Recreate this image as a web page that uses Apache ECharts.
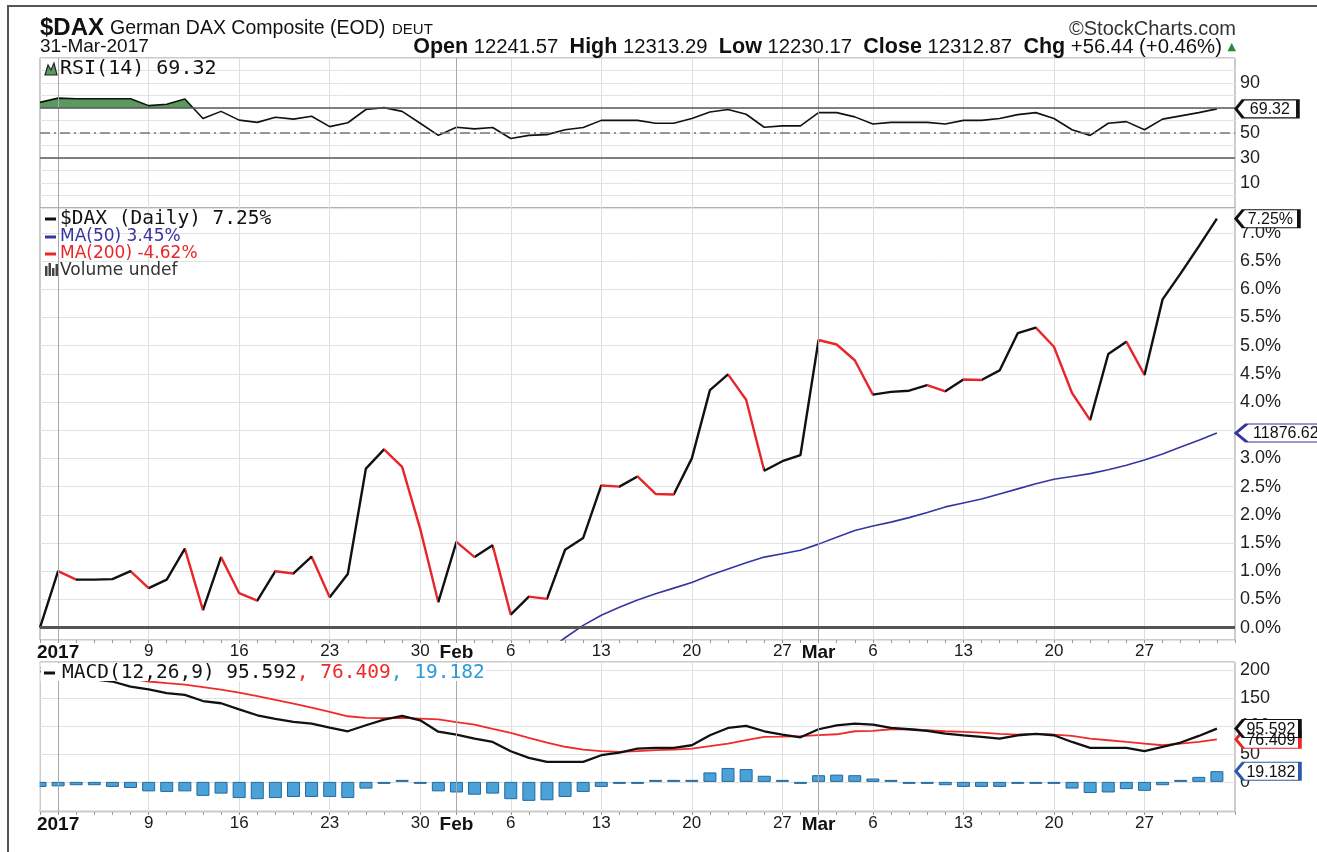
<!DOCTYPE html>
<html>
<head>
<meta charset="utf-8">
<script src="https://cdn.jsdelivr.net/npm/echarts@6.0.0/dist/echarts.min.js"></script>
<style>
    html, body { margin: 0; padding: 0; background: #fff; }
    #chart { width: 1317px; height: 852px; }
</style>
</head>
<body>
<div id="chart"></div>
<script>
// ---- data -------------------------------------------------------------------

// % change of $DAX vs. the 30-Dec-2016 close, one value per trading day
let dax = [0.00, 1.00, 0.85, 0.85, 0.86, 1.00, 0.70, 0.85, 1.40, 0.31,
    1.25, 0.61, 0.48, 1.00, 0.96, 1.26, 0.54, 0.95, 2.82, 3.16,
    2.85, 1.75, 0.45, 1.52, 1.25, 1.46, 0.23, 0.55, 0.51, 1.38,
    1.59, 2.52, 2.50, 2.68, 2.37, 2.36, 3.00, 4.21, 4.49, 4.04,
    2.78, 2.95, 3.06, 5.10, 5.02, 4.74, 4.13, 4.18, 4.20, 4.30,
    4.19, 4.40, 4.39, 4.56, 5.22, 5.32, 4.98, 4.16, 3.68, 4.85,
    5.07, 4.48, 5.82, 6.28, 6.76, 7.25];

// MA(50) in %, only the part that shows in the panel (from day index 28)
let ma50Start = 28;
let ma50 = [-0.42, -0.18, 0.04, 0.22, 0.36, 0.49, 0.60, 0.70, 0.80, 0.93,
    1.04, 1.15, 1.25, 1.31, 1.37, 1.48, 1.60, 1.72, 1.80, 1.87,
    1.95, 2.04, 2.14, 2.21, 2.28, 2.37, 2.46, 2.55, 2.63, 2.68,
    2.73, 2.80, 2.88, 2.97, 3.08, 3.20, 3.32, 3.45];

let rsi = [74.5, 77.9, 77.4, 77.4, 77.4, 77.4, 71.9, 73.0, 77.2, 61.6,
    67.3, 60.3, 58.5, 62.6, 61.1, 63.4, 55.1, 58.2, 68.8, 70.3,
    67.3, 57.8, 48.1, 54.6, 53.3, 54.4, 45.6, 48.1, 48.7, 52.6,
    54.4, 60.1, 60.1, 60.1, 57.8, 57.8, 61.6, 66.8, 68.8, 65.0,
    54.6, 55.7, 55.7, 66.3, 66.3, 62.9, 57.2, 58.5, 58.5, 58.5,
    57.2, 60.1, 60.1, 61.6, 64.7, 66.3, 61.6, 52.6, 48.1, 57.8,
    59.1, 52.6, 61.1, 63.7, 66.3, 69.32];

let macd = [198, 194, 189, 184, 180, 171, 166, 159, 156, 145,
    141, 130, 119.5, 113, 107.5, 104.5, 97.4, 90.8, 101.6, 111.7,
    118.3, 110.5, 90, 84.9, 77.7, 71.6, 55, 43, 35.8, 35.8,
    35.8, 47.8, 52.6, 59.7, 61, 61, 65.7, 83.6, 96.7, 100.3,
    90.8, 84.9, 80, 94.4, 101.5, 104.6, 102.8, 96.7, 94.4, 91.4,
    86.7, 83.6, 80.6, 77.7, 83.6, 86, 83.6, 71.6, 61, 61,
    61, 55, 62.7, 70.6, 82.4, 95.59];

let signal = [205, 201, 197, 193, 189, 185, 180, 177, 174.4, 170,
    165.5, 160, 154, 147, 140.4, 133, 125.4, 117.7, 114.7, 114.5,
    114.7, 113.5, 112, 107, 102.8, 95, 87.8, 79, 70.6, 63,
    58, 55, 53.7, 55, 56.8, 58, 59.7, 64, 68.8, 75,
    80.6, 81, 81.9, 84, 85.4, 90.8, 91.4, 94.4, 94.4, 92.6,
    90.8, 89.6, 88.4, 86, 84.9, 86, 84.9, 82.4, 77.7, 74.7,
    71.6, 68.8, 65.7, 68.8, 71.6, 76.41];

let hist = [-9, -8, -6, -6, -9, -11, -17, -18, -17, -25,
    -21, -29, -31, -29, -27, -27, -27, -29, -12, -2,
    2, -3, -17, -19, -23, -21, -31, -34, -33, -27,
    -18, -9, -3, -1, 1, 1, 2, 17, 25, 23,
    11, 2, -2, 12, 13, 12, 6, 2, -1, -3,
    -6, -9, -9, -9, -3, -1, -3, -12, -20, -19,
    -13, -16, -6, 1, 9, 19.18];

// x tick labels
let tickDays = ['01-02', '01-09', '01-16', '01-23', '01-30', '02-01', '02-06', '02-13',
    '02-20', '02-27', '03-01', '03-06', '03-13', '03-20', '03-27'];
let tickText = ['2017', '9', '16', '23', '30', 'Feb', '6', '13', '20', '27', 'Mar', '6', '13', '20', '27'];
let monthDays = ['01-02', '02-01', '03-01'];
let boldText = ['2017', 'Feb', 'Mar'];

// y tick labels (3.5% and 70 sit under the price tags)
let pctTicks = [0, 0.5, 1, 1.5, 2, 2.5, 3, 4, 4.5, 5, 5.5, 6, 6.5, 7];
let rsiTicks = [10, 30, 50, 90];
let macdTicks = [0, 50, 100, 150, 200];

// header / legend numbers
let lastRsi = '69.32';
let lastDax = '7.25%';
let ma50Price = '11876.62';
let lastMacd = ['95.592', '76.409', '19.182'];

// ---- trading days (Xetra, no holidays in Jan-Mar 2017) ----------------------
let pad = n => (n < 10 ? '0' : '') + n;
let days = ['12-30'];
[31, 28, 31].forEach((len, m) => {
    for (let d = 1; d <= len; d++) {
        let wd = new Date(Date.UTC(2017, m, d)).getUTCDay();
        if (wd > 0 && wd < 6) days.push(pad(m + 1) + '-' + pad(d));
    }
});
let cats = days.concat(['']);   // one empty slot of room on the right
let lastDay = days[days.length - 1];

// ---- helpers ----------------------------------------------------------------
const FONT = 'Liberation Sans';
const MONO = 'DejaVu Sans Mono';
const RED = '#e8262a';
const BLUE = '#3535a3';

let makeX = (gridIndex, withLabels) => ({
    type: 'category',
    gridIndex: gridIndex,
    data: cats,
    boundaryGap: false,
    axisLine: { show: false, onZero: false },
    axisTick: { show: withLabels, interval: 0, length: 3, lineStyle: { color: '#999' } },
    axisLabel: {
        show: withLabels,
        interval: (i, v) => tickDays.indexOf(v) >= 0,
        margin: 3,
        fontSize: 17,
        fontFamily: FONT,
        color: '#1a1a1a',
        formatter: v => {
            let k = tickDays.indexOf(v);
            if (k < 0) return '';
            let t = tickText[k];
            return boldText.indexOf(t) >= 0 ? '{b|' + t + '}' : t;
        },
        rich: { b: { fontSize: 19, fontWeight: 'bold', fontFamily: FONT, color: '#111' } }
    },
    splitLine: {
        show: true,
        interval: (i, v) => tickDays.indexOf(v) >= 0,
        lineStyle: { color: '#dedede', width: 1 }
    }
});

let yLabel = formatter => ({
    formatter: formatter,
    margin: 5,
    fontSize: 18,
    fontFamily: FONT,
    color: '#222'
});

//右侧价签
let tag = (y, text, w, border) => ({
    symbol: 'path://M0,9 L7,0 L60,0 L60,18 L7,18 Z',
    symbolSize: [w, 18],
    symbolOffset: [19 + w / 2, 0],
    silent: true,
    animation: false,
    itemStyle: { color: '#fff', borderColor: border, borderWidth: 2 },
    label: {
        show: true, position: 'inside', formatter: text, offset: [3, 1],
        color: '#111', fontSize: 16, fontFamily: FONT
    },
    data: [{ coord: [lastDay, y] }]
});

let monthLines = extra => ({
    silent: true,
    animation: false,
    symbol: ['none', 'none'],
    label: { show: false },
    lineStyle: { color: '#a9a9a9', width: 1, type: 'solid' },
    data: monthDays.map(d => ({ xAxis: d })).concat(extra || [])
});

// segments where the close went down are drawn red
let downPieces = [];
for (let i = 1; i < dax.length; i++) {
    if (dax[i] < dax[i - 1]) downPieces.push({ gt: i - 1, lte: i, color: RED });
}

let txt = (x, y, text, font, fill, more) => ({
    type: 'text', x: x, y: y, z: 100, silent: true,
    style: Object.assign({ text: text, font: font, fill: fill, verticalAlign: 'middle' }, more || {})
});
let dash = (x, y, color) => ({
    type: 'line', z: 100, silent: true,
    shape: { x1: x, y1: y, x2: x + 11, y2: y },
    style: { stroke: color, lineWidth: 3 }
});

// ---- option -----------------------------------------------------------------
let option = {
    animation: false,
    backgroundColor: '#fff',
    textStyle: { fontFamily: FONT },
    grid: [
        { left: 40, top: 58, width: 1195, height: 150, show: true, borderColor: '#999', borderWidth: 1 },
        { left: 40, top: 208, width: 1195, height: 432, show: true, borderColor: '#999', borderWidth: 1 },
        { left: 40, top: 662, width: 1195, height: 150, show: true, borderColor: '#999', borderWidth: 1 }
    ],
    xAxis: [makeX(0, false), makeX(1, true), makeX(2, true)],
    yAxis: [
        {
            type: 'value', gridIndex: 0, position: 'right', min: -10, max: 110, interval: 10,
            axisLine: { show: false }, axisTick: { show: false },
            axisLabel: yLabel(v => rsiTicks.indexOf(v) >= 0 ? String(v) : ''),
            splitLine: { lineStyle: { color: '#e4e4e4' } }
        },
        {
            type: 'value', gridIndex: 1, position: 'right', min: -0.22, max: 7.44,
            minInterval: 0.5, maxInterval: 0.5,
            axisLine: { show: false }, axisTick: { show: false },
            axisLabel: yLabel(v => pctTicks.some(t => Math.abs(t - v) < 1e-6) ? v.toFixed(1) + '%' : ''),
            splitLine: { lineStyle: { color: '#e2e2e2' } }
        },
        {
            type: 'value', gridIndex: 2, position: 'right', min: -54, max: 215,
            minInterval: 50, maxInterval: 50,
            axisLine: { show: false }, axisTick: { show: false },
            axisLabel: yLabel(v => macdTicks.indexOf(v) >= 0 ? String(v) : ''),
            splitLine: { lineStyle: { color: '#e2e2e2' } }
        }
    ],
    visualMap: [
        {
            type: 'piecewise', show: false, seriesIndex: 0, dimension: 1,
            pieces: [
                { gte: -10, lte: 70, color: 'rgba(94,155,97,0)' },
                { gt: 70, lte: 110, color: '#5a9a5e' }
            ],
            outOfRange: { color: 'rgba(94,155,97,0)' }
        },
        {
            type: 'piecewise', show: false, seriesIndex: 3, dimension: 0,
            pieces: downPieces,
            outOfRange: { color: '#111' }
        }
    ],
    series: [
        // RSI above 70 shaded green
        {
            type: 'line', xAxisIndex: 0, yAxisIndex: 0, data: rsi,
            symbol: 'none', silent: true, z: 1,
            lineStyle: { width: 0, opacity: 0 },
            areaStyle: { opacity: 1, origin: 'start' }
        },
        {
            name: 'RSI(14)', type: 'line', xAxisIndex: 0, yAxisIndex: 0, data: rsi,
            symbol: 'none', silent: true,
            lineStyle: { color: '#111', width: 1.6 },
            markLine: monthLines([
                { yAxis: 70, lineStyle: { color: '#5a5a5a', width: 1.5, type: 'solid' } },
                { yAxis: 30, lineStyle: { color: '#5a5a5a', width: 1.5, type: 'solid' } },
                { yAxis: 50, lineStyle: { color: '#777', width: 1.5, type: [10, 4, 2, 4] } }
            ]),
            markPoint: tag(rsi[rsi.length - 1], lastRsi, 62, '#111')
        },
        {
            name: 'MA(50)', type: 'line', xAxisIndex: 1, yAxisIndex: 1,
            data: ma50.map((v, k) => [ma50Start + k, v]),
            symbol: 'none', silent: true,
            lineStyle: { color: BLUE, width: 1.6 },
            markPoint: tag(ma50[ma50.length - 1], ma50Price, 94, BLUE)
        },
        {
            name: '$DAX', type: 'line', xAxisIndex: 1, yAxisIndex: 1, data: dax,
            symbol: 'none', silent: true,
            lineStyle: { width: 2.4 },
            markLine: monthLines([
                { yAxis: 0, lineStyle: { color: '#555', width: 3, type: 'solid' } }
            ]),
            markPoint: tag(dax[dax.length - 1], lastDax, 63, '#111')
        },
        {
            name: 'Histogram', type: 'bar', xAxisIndex: 2, yAxisIndex: 2, data: hist,
            barWidth: 13, barMinHeight: 2, silent: true,
            itemStyle: { color: '#4aa2d8', borderColor: '#22699e', borderWidth: 1 },
            markPoint: tag(hist[hist.length - 1], lastMacd[2], 64, '#2f58ad')
        },
        {
            name: 'Signal', type: 'line', xAxisIndex: 2, yAxisIndex: 2, data: signal,
            symbol: 'none', silent: true,
            lineStyle: { color: '#f22a2a', width: 1.8 },
            markPoint: tag(signal[signal.length - 1], lastMacd[1], 64, '#e52a2a')
        },
        {
            name: 'MACD', type: 'line', xAxisIndex: 2, yAxisIndex: 2, data: macd,
            symbol: 'none', silent: true,
            lineStyle: { color: '#111', width: 2.3 },
            markLine: monthLines(),
            markPoint: tag(macd[macd.length - 1], lastMacd[0], 64, '#111')
        }
    ],
    graphic: [
        // outer frame
        {
            type: 'rect', z: 100, silent: true,
            shape: { x: 8, y: 6, width: 1400, height: 900 },
            style: { fill: 'none', stroke: '#555', lineWidth: 2 }
        },
        // the first MACD bar is centred on the panel edge: hide the half outside
        { type: 'rect', z: 99, silent: true, shape: { x: 20, y: 663, width: 19.5, height: 148 }, style: { fill: '#fff' } },

        // header
        txt(40, 28, '$DAX', 'bold 24px "Liberation Sans"', '#111'),
        txt(110, 29, 'German DAX Composite (EOD)', '19.5px "Liberation Sans"', '#111'),
        txt(392, 30, 'DEUT', '15px "Liberation Sans"', '#111'),
        txt(1236, 29, '\u00A9StockCharts.com', '20px "Liberation Sans"', '#333', { align: 'right' }),
        txt(40, 47, '31-Mar-2017', '19px "Liberation Sans"', '#111'),
        txt(1236, 47,
            '{k|Open} 12241.57  {k|High} 12313.29  {k|Low} 12230.17  {k|Close} 12312.87  {k|Chg} +56.44 (+0.46%) {u|\u25B2}',
            '20.3px "Liberation Sans"', '#111', {
                align: 'right',
                rich: {
                    k: { font: 'bold 21.5px "Liberation Sans"', fill: '#111' },
                    u: { font: '11px "DejaVu Sans"', fill: '#2a8a3a' }
                }
            }),

        // RSI legend
        {
            type: 'polygon', z: 100, silent: true,
            shape: { points: [[45, 75], [48, 65], [51, 70], [54, 63], [57, 75]] },
            style: { fill: '#5a9a5e', stroke: '#222', lineWidth: 1.2 }
        },
        txt(60, 69, 'RSI(14) ' + lastRsi, '20px "' + MONO + '"', '#111'),

        // price panel legend
        dash(45, 219, '#111'),
        txt(60, 219, '$DAX (Daily) ' + lastDax, '19.5px "' + MONO + '"', '#111'),
        dash(45, 237, BLUE),
        txt(60, 237, 'MA(50) 3.45%', '17px "DejaVu Sans"', BLUE),
        dash(45, 254, RED),
        txt(60, 254, 'MA(200) -4.62%', '17px "DejaVu Sans"', RED),
        { type: 'rect', z: 100, silent: true, shape: { x: 45, y: 266, width: 2.5, height: 10 }, style: { fill: '#444' } },
        { type: 'rect', z: 100, silent: true, shape: { x: 48.5, y: 263, width: 2.5, height: 13 }, style: { fill: '#444' } },
        { type: 'rect', z: 100, silent: true, shape: { x: 52, y: 268, width: 2.5, height: 8 }, style: { fill: '#444' } },
        { type: 'rect', z: 100, silent: true, shape: { x: 55.5, y: 264, width: 2.5, height: 12 }, style: { fill: '#444' } },
        txt(60, 271, 'Volume undef', '17px "DejaVu Sans"', '#333'),

        // MACD legend on a white plate (covers the line starts)
        { type: 'rect', z: 99, silent: true, shape: { x: 40.5, y: 663, width: 446, height: 18 }, style: { fill: '#fff' } },
        dash(44, 673, '#111'),
        txt(62, 673,
            'MACD(12,26,9) ' + lastMacd[0] + '{r|, ' + lastMacd[1] + '}{c|, ' + lastMacd[2] + '}',
            '19.5px "' + MONO + '"', '#111', {
                rich: {
                    r: { font: '19.5px "' + MONO + '"', fill: '#ee2a2a' },
                    c: { font: '19.5px "' + MONO + '"', fill: '#2b9ad8' }
                }
            })
    ]
};

let chart = echarts.init(document.getElementById('chart'));
chart.setOption(option);
</script>
</body>
</html>
